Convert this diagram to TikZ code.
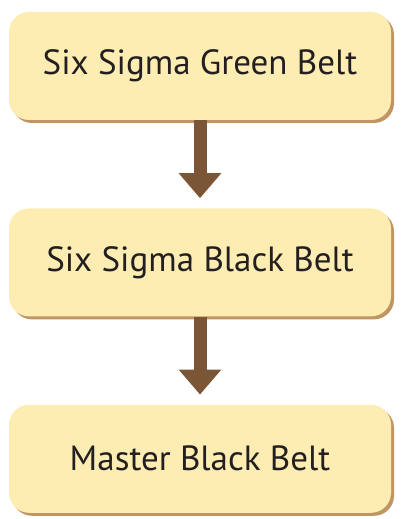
\documentclass[tikz,border=0pt]{standalone}
\usepackage{fontspec}
\setmainfont{PT Sans}
\usetikzlibrary{positioning, shadows, arrows.meta}

\definecolor{beltfill}{HTML}{FDEDB2}
\definecolor{beltshadow}{HTML}{B98A50}
\definecolor{beltarrow}{HTML}{7A5536}
\definecolor{belttext}{HTML}{231F20}

\begin{document}
\begin{tikzpicture}[x=1pt, y=1pt, node distance=88pt,
    belt/.style={rectangle, rounded corners=20pt, fill=beltfill,
      minimum width=382pt, minimum height=108pt, text=belttext,
      font=\fontsize{35}{40}\selectfont,
      drop shadow={shadow xshift=3pt, shadow yshift=-3pt,
        fill=beltshadow, opacity=0.9}},
    beltstep/.style={-{Triangle[width=41pt, length=25pt]}, line width=13pt,
      draw=beltarrow, shorten >=10pt}]
  \useasboundingbox (0,0) rectangle (400,519);
  \node[belt] (green) at (200,453) {Six Sigma Green Belt};
  \node[belt, below=of green] (black) {Six Sigma Black Belt};
  \node[belt, below=of black] (master) {Master Black Belt};
  \draw[beltstep] (green.south) -- (black.north);
  \draw[beltstep] (black.south) -- (master.north);
\end{tikzpicture}
\end{document}
